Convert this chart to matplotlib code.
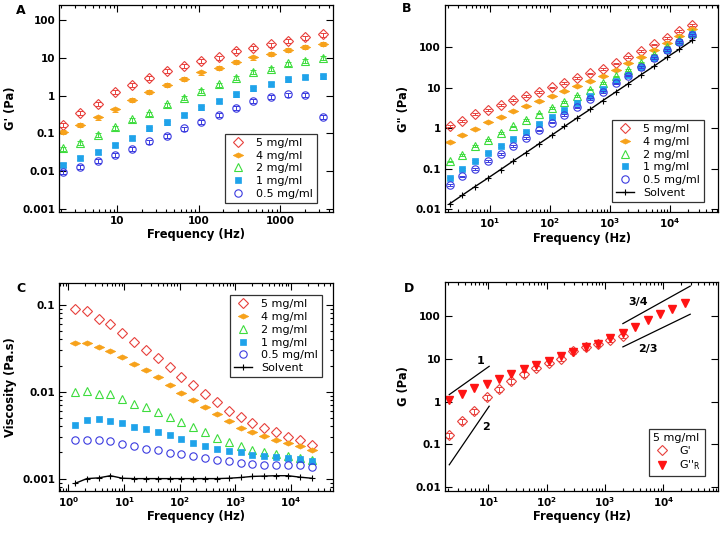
import numpy as np
import matplotlib.pyplot as plt
from matplotlib.path import Path
from matplotlib.ticker import FixedLocator, LogLocator, FuncFormatter, NullLocator

plt.rcParams['font.family'] = ['DejaVu Sans']
plt.rcParams['mathtext.fontset'] = 'dejavusans'

# --- Data ---
# common frequency grid (Hz)
FREQ = [1.31, 2.14, 3.49, 5.69, 9.29, 15.2, 24.7, 40.4, 65.9, 107.5, 175,
        286, 467, 762, 1244, 2030, 3313, 5407, 8824, 14400, 23500]
FREQ_A = FREQ[1:17]
FREQ_BD = FREQ[1:21]

LABELS = ['5 mg/ml', '4 mg/ml', '2 mg/ml', '1 mg/ml', '0.5 mg/ml']

# A: G' (Pa)
GP_5 = [0.164, 0.348, 0.59, 1.26, 1.93, 3.0, 4.4, 6.1, 8.2, 10.2, 15, 18.5, 22.6, 28.3, 34.7, 41.7]
GP_4 = [0.107, 0.164, 0.262, 0.427, 0.755, 1.23, 1.89, 2.78, 4.1, 5.3, 7.85, 10.2, 12.5, 16, 19.6, 23.6]
GP_2 = [0.0394, 0.0557, 0.089, 0.142, 0.232, 0.334, 0.58, 0.87, 1.34, 1.97, 2.95, 4.18, 5.2, 7.1, 8.35, 9.8]
GP_1 = [0.0146, 0.0223, 0.0322, 0.0493, 0.074, 0.134, 0.193, 0.302, 0.482, 0.71, 1.07, 1.54, 2.0, 2.67, 3.14, 3.2]
GP_05 = [0.0095, 0.0129, 0.0186, 0.0263, 0.0379, 0.0605, 0.0855, 0.134, 0.197, 0.302, 0.473, 0.724, 0.925, 1.07, 1.02, 0.273]

# B: G'' (Pa)
GPP_5 = [1.13, 1.5, 2.2, 2.8, 3.7, 4.9, 6.3, 8.0, 10.2, 13.3, 17.4, 22.5, 29, 40, 57, 82, 118, 172, 250, 360]
GPP_4 = [0.45, 0.67, 0.98, 1.4, 1.9, 2.6, 3.5, 4.7, 6.2, 8.3, 11.2, 15, 20, 28, 40, 58, 85, 125, 190, 290]
GPP_2 = [0.15, 0.22, 0.36, 0.52, 0.75, 1.1, 1.6, 2.3, 3.1, 4.4, 6.3, 9.0, 13, 19, 28, 42, 64, 100, 150, 230]
GPP_1 = [0.06, 0.1, 0.155, 0.24, 0.36, 0.55, 0.82, 1.25, 1.85, 2.75, 4.1, 6.2, 9.5, 14.5, 21, 33, 53, 85, 135, 210]
GPP_05 = [0.039, 0.064, 0.099, 0.156, 0.23, 0.36, 0.57, 0.88, 1.38, 2.1, 3.25, 5.2, 8.0, 12.8, 20, 33, 54, 85, 135, 200]
GPP_SOLV = [0.0134, 0.022, 0.036, 0.058, 0.095, 0.155, 0.25, 0.41, 0.67, 1.1, 1.8, 2.9, 4.8, 7.8, 12.7, 21, 34, 56, 90, 148]

# C: viscosity (Pa.s)
VIS_5 = [0.089, 0.0846, 0.068, 0.0605, 0.0474, 0.0377, 0.0305, 0.0247, 0.019, 0.0147, 0.0118,
         0.0094, 0.00755, 0.0060, 0.0051, 0.00442, 0.0038, 0.00342, 0.00305, 0.00275, 0.00241]
VIS_4 = [0.0367, 0.036, 0.0327, 0.0292, 0.0252, 0.0211, 0.0177, 0.0149, 0.0119, 0.00957, 0.00803,
         0.00662, 0.0055, 0.00461, 0.0038, 0.0034, 0.00306, 0.0028, 0.00256, 0.00239, 0.00211]
VIS_2 = [0.0098, 0.0102, 0.0095, 0.0094, 0.0083, 0.00722, 0.00662, 0.0059, 0.00518, 0.0045, 0.00397,
         0.00342, 0.00295, 0.00263, 0.00239, 0.00215, 0.0020, 0.00192, 0.00183, 0.00174, 0.00165]
VIS_1 = [0.00415, 0.00474, 0.00487, 0.00466, 0.00442, 0.00397, 0.00377, 0.00345, 0.00316, 0.00284, 0.0026,
         0.00239, 0.00219, 0.00209, 0.0020, 0.00188, 0.0018, 0.00177, 0.00174, 0.00169, 0.00158]
VIS_05 = [0.00275, 0.00275, 0.00277, 0.00268, 0.00252, 0.00235, 0.00221, 0.00215, 0.00197, 0.0019, 0.0018,
          0.00173, 0.00165, 0.00158, 0.00151, 0.00148, 0.00145, 0.00143, 0.00143, 0.00143, 0.00135]
VIS_SOLV = [0.00088, 0.00100, 0.00102, 0.00108, 0.00101, 0.00100, 0.00100, 0.00100, 0.00100, 0.00100, 0.00100,
            0.00100, 0.00100, 0.00101, 0.00103, 0.00106, 0.00107, 0.00108, 0.00108, 0.00104, 0.00101]

# D: 5 mg/ml G' and G''_R
D_GP = GP_5[:15]
D_GPPR = [1.07, 1.49, 2.13, 2.64, 3.46, 4.53, 5.93, 7.1, 8.8, 11.6, 14.6, 18.5, 22.9, 30.5, 41.4,
          56, 80.5, 111, 151, 205]

# D: power-law guide lines (freq pair, G pair, label, label position)
GUIDE_F = [(2.13, 10.3), (2.13, 10.3), (2030, 29000), (2030, 29000)]
GUIDE_G = [(1.46, 6.7), (0.0333, 0.78), (67, 505), (19.1, 111)]
GUIDE_TXT = ['1', '2', '3/4', '2/3']
GUIDE_TXT_POS = [(7.2, 8.8), (9.1, 0.255), (3670, 217), (5370, 17.5)]

# relative error bars
ERR_A = 0.12
ERR_B = 0.05

# --- styles ---
RED = '#e8403c'
ORANGE = '#f7a21b'
GREEN = '#3ddc3d'
SKY = '#1fa3ea'
BLUE = '#3a3ae0'
wide_diamond = Path([(-1, 0), (0, 0.5), (1, 0), (0, -0.5), (-1, 0)],
                    [Path.MOVETO, Path.LINETO, Path.LINETO, Path.LINETO, Path.CLOSEPOLY])
STYLES = [
    dict(marker='D', ms=5.2, mfc='none', mec=RED, mew=0.8),
    dict(marker=wide_diamond, ms=7.5, mfc=ORANGE, mec=ORANGE, mew=0.5),
    dict(marker='^', ms=5.8, mfc='none', mec=GREEN, mew=0.8),
    dict(marker='s', ms=4.8, mfc=SKY, mec=SKY, mew=0.5),
    dict(marker='o', ms=5.3, mfc='none', mec=BLUE, mew=0.8),
]
COLORS = [RED, ORANGE, GREEN, SKY, BLUE]

TICK_FS = 7.5
LABEL_FS = 8.3
LEG_FS = 8


def plain(v, pos):
    return '%g' % v


def sci(v, pos):
    return r'$\mathbf{10^{%d}}$' % int(round(np.log10(v)))


def style_axes(ax, xlim, ylim, xmajor, ymajor, xsci, yminor=False):
    ax.set_xscale('log')
    ax.set_yscale('log')
    ax.set_xlim(*xlim)
    ax.set_ylim(*ylim)
    ax.xaxis.set_major_locator(FixedLocator(xmajor))
    ax.xaxis.set_minor_locator(LogLocator(base=10, subs=np.arange(2, 10), numticks=20))
    ax.yaxis.set_major_locator(FixedLocator(ymajor))
    if yminor:
        ax.yaxis.set_minor_locator(LogLocator(base=10, subs=np.arange(2, 10), numticks=20))
    else:
        ax.yaxis.set_minor_locator(NullLocator())
    ax.xaxis.set_major_formatter(FuncFormatter(sci if xsci else plain))
    ax.yaxis.set_major_formatter(FuncFormatter(plain))
    ax.xaxis.set_minor_formatter(FuncFormatter(lambda v, p: ''))
    ax.yaxis.set_minor_formatter(FuncFormatter(lambda v, p: ''))
    ax.tick_params(which='both', direction='in', top=True, right=True, width=0.8)
    ax.tick_params(which='major', length=5, labelsize=TICK_FS, pad=3)
    ax.tick_params(which='minor', length=2.5)
    for t in ax.xaxis.get_major_ticks() + ax.yaxis.get_major_ticks():
        t.label1.set_fontweight('bold')
    for sp in ax.spines.values():
        sp.set_linewidth(0.9)
    ax.set_xlabel('Frequency (Hz)', fontsize=LABEL_FS, fontweight='bold', labelpad=1)


def legend(ax, loc, anchor, **kw):
    leg = ax.legend(loc=loc, bbox_to_anchor=anchor, fontsize=LEG_FS, frameon=True,
                    fancybox=False, borderaxespad=0, labelspacing=0.25,
                    handlelength=1.6, handletextpad=0.8, borderpad=0.35, **kw)
    leg.get_frame().set_edgecolor('black')
    leg.get_frame().set_linewidth(0.9)
    return leg


fig = plt.figure(figsize=(7.23, 5.34), dpi=100)
axA = fig.add_axes([0.0820, 0.6024, 0.3786, 0.3888])
axB = fig.add_axes([0.6155, 0.6024, 0.3780, 0.3888])
axC = fig.add_axes([0.0820, 0.0805, 0.3786, 0.3895])
axD = fig.add_axes([0.6155, 0.0805, 0.3776, 0.3914])

# --- A ---
for y, lab, st, c in zip([GP_5, GP_4, GP_2, GP_1, GP_05], LABELS, STYLES, COLORS):
    y = np.array(y)
    axA.errorbar(FREQ_A, y, yerr=ERR_A * y, fmt='none', ecolor=c,
                 elinewidth=0.7, capsize=2.2, capthick=0.7)
    axA.plot(FREQ_A, y, ls='none', label=lab, **st)
style_axes(axA, (1.93, 4450), (0.0008, 256), [10, 100, 1000],
           [0.001, 0.01, 0.1, 1, 10, 100], xsci=False)
axA.set_ylabel("G' (Pa)", fontsize=LABEL_FS, fontweight='bold')
legend(axA, 'lower right', (0.94, 0.046))

# --- B ---
for y, lab, st, c in zip([GPP_5, GPP_4, GPP_2, GPP_1, GPP_05], LABELS, STYLES, COLORS):
    y = np.array(y)
    axB.errorbar(FREQ_BD, y, yerr=ERR_B * y, fmt='none', ecolor=c,
                 elinewidth=0.7, capsize=2.2, capthick=0.7)
    axB.plot(FREQ_BD, y, ls='none', label=lab, **st)
axB.plot(FREQ_BD, GPP_SOLV, color='black', lw=1, marker='+', ms=5, mew=0.8, label='Solvent')
style_axes(axB, (1.8, 6.4e4), (0.0083, 1130), [10, 100, 1000, 10000],
           [0.01, 0.1, 1, 10, 100], xsci=True)
axB.set_ylabel('G" (Pa)', fontsize=LABEL_FS, fontweight='bold')
legend(axB, 'lower right', (0.947, 0.051))

# --- C ---
for y, lab, st in zip([VIS_5, VIS_4, VIS_2, VIS_1, VIS_05], LABELS, STYLES):
    axC.plot(FREQ, y, ls='none', label=lab, **st)
axC.plot(FREQ, VIS_SOLV, color='black', lw=1, marker='+', ms=5, mew=0.8, label='Solvent')
style_axes(axC, (0.684, 5.7e4), (0.00072, 0.178), [1, 10, 100, 1000, 10000],
           [0.001, 0.01, 0.1], xsci=True, yminor=True)
axC.set_ylabel('Viscosity (Pa.s)', fontsize=LABEL_FS, fontweight='bold')
legend(axC, 'upper right', (0.959, 0.941))

# --- D ---
dgp = np.array(D_GP)
axD.errorbar(FREQ_BD[:len(D_GP)], dgp, yerr=ERR_A * dgp, fmt='none', ecolor=RED,
             elinewidth=0.7, capsize=2.2, capthick=0.7)
axD.plot(FREQ_BD[:len(D_GP)], D_GP, ls='none', label="G'", **STYLES[0])
axD.plot(FREQ_BD, D_GPPR, ls='none', marker='v', ms=6, mfc='#ff1414', mec='#ff1414',
         label="G''$_\\mathregular{R}$")
for fx, gy, txt, tp in zip(GUIDE_F, GUIDE_G, GUIDE_TXT, GUIDE_TXT_POS):
    axD.plot(fx, gy, color='black', lw=0.9)
    axD.text(tp[0], tp[1], txt, fontsize=8, fontweight='bold', ha='center', va='center')
style_axes(axD, (1.8, 8.7e4), (0.0081, 630), [10, 100, 1000, 10000],
           [0.01, 0.1, 1, 10, 100], xsci=True)
axD.set_ylabel('G (Pa)', fontsize=LABEL_FS, fontweight='bold')
legend(axD, 'lower right', (0.953, 0.07), title='5 mg/ml',
       title_fontsize=LEG_FS, alignment='left')

# panel letters
fig.text(21 / 723, 1 - 10 / 534, 'A', fontsize=9, fontweight='bold', ha='center', va='center')
fig.text(407 / 723, 1 - 9 / 534, 'B', fontsize=9, fontweight='bold', ha='center', va='center')
fig.text(21 / 723, 1 - 288 / 534, 'C', fontsize=9, fontweight='bold', ha='center', va='center')
fig.text(409 / 723, 1 - 288 / 534, 'D', fontsize=9, fontweight='bold', ha='center', va='center')

fig.savefig('out.png', dpi=100)
